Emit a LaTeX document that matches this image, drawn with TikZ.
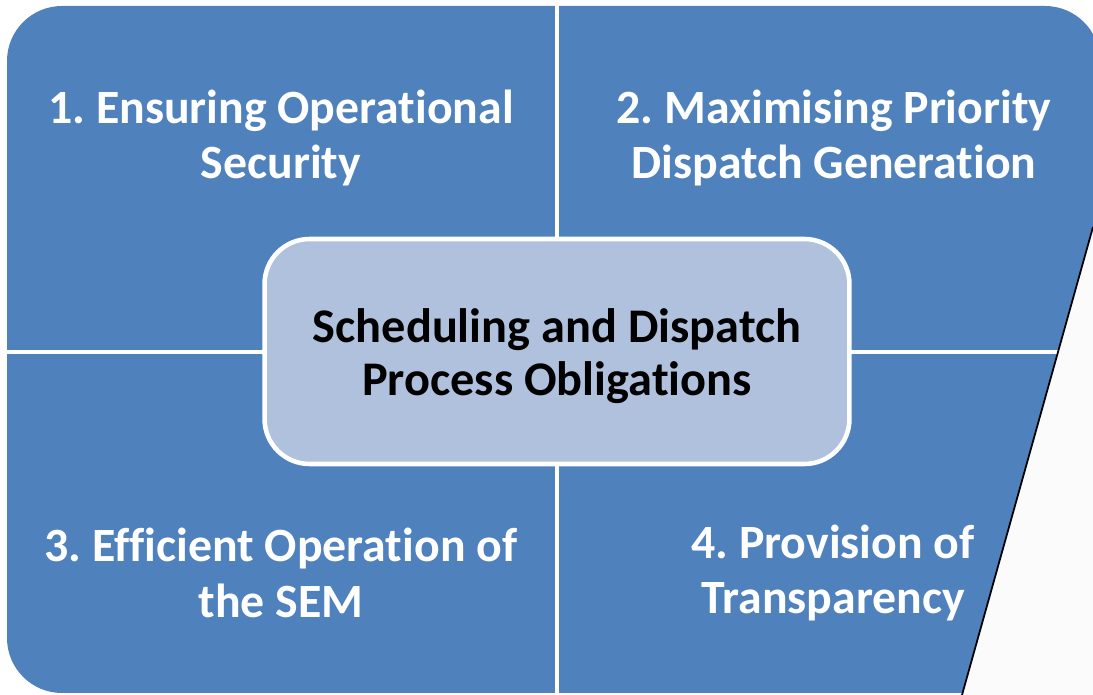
\documentclass[tikz,border=0pt]{standalone}
\usepackage{fontspec}
\setmainfont{Carlito}[Ligatures=NoCommon]
\frenchspacing
\definecolor{quadblue}{RGB}{79,129,189}
\definecolor{centreblue}{RGB}{176,193,221}
\definecolor{pagegrey}{RGB}{251,251,251}
\begin{document}
\begin{tikzpicture}[x=0.02cm, y=-0.02cm,
    quadtext/.style={align=center, text=white, font=\bfseries\fontsize{27.2}{31.5}\selectfont},
    centrebox/.style={rounded corners=0.9cm, fill=centreblue, draw=white, line width=2.6pt,
      minimum width=11.7cm, minimum height=4.5cm},
    centretext/.style={align=center, font=\bfseries\fontsize{27.5}{30.3}\selectfont},
    divider/.style={white, line width=2.3pt}]
    \useasboundingbox (0, 0) rectangle (1093, 695);
    % background block
    \fill[quadblue, rounded corners=1.1cm] (7, 6) rectangle (1100, 693);
    \draw[divider] (557, 4) -- (557, 695);
    \draw[divider] (5, 352) -- (1093, 352);
    % quadrant labels
    \node[quadtext] (q1) at (281, 138) {1. Ensuring Operational\\Security};
    \node[quadtext] (q2) at (834, 138) {2. Maximising Priority\\Dispatch Generation};
    \node[quadtext] (q3) at (281, 573) {3. Efficient Operation of\\the SEM};
    \node[quadtext] (q4) at (833, 573) {4. Provision of\\Transparency};
    % centre
    \node[centrebox] (obl) at (557, 351.5) {};
    \node[centretext] (obltext) at (557, 356) {Scheduling and Dispatch\\Process Obligations};
    % overlapping page
    \fill[pagegrey] (1093, 227) -- (962, 695) -- (1100, 695) -- (1100, 227) -- cycle;
    \draw[black, line width=1pt] (1093, 227) -- (962, 695);
  \end{tikzpicture}
\end{document}
